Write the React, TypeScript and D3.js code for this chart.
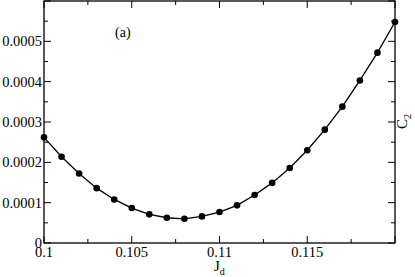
import React from 'react';
import * as d3 from 'd3';

// C2 vs Jd
const jd = [0.1, 0.101, 0.102, 0.103, 0.104, 0.105, 0.106, 0.107, 0.108, 0.109, 0.11,
  0.111, 0.112, 0.113, 0.114, 0.115, 0.116, 0.117, 0.118, 0.119, 0.12];
const c2 = [0.000262, 0.000214, 0.0001725, 0.000136, 0.000108, 0.0000866, 0.000071, 0.0000626,
  0.00006, 0.000066, 0.0000767, 0.0000933, 0.000119, 0.000149, 0.000186, 0.00023, 0.000281,
  0.000338, 0.000403, 0.000472, 0.000548];

const xMajor = [0.1, 0.105, 0.11, 0.115, 0.12];
const xLabels = ['0.1', '0.105', '0.11', '0.115', ''];
const yMajor = [0, 0.0001, 0.0002, 0.0003, 0.0004, 0.0005, 0.0006];
const yLabels = ['0', '0.0001', '0.0002', '0.0003', '0.0004', '0.0005', ''];

const W = 415, H = 277;
const m = { left: 44, right: 20, top: 1, bottom: 34 };
const font = "'Liberation Serif', 'Times New Roman', Times, serif";

export default function App() {
  const x = d3.scaleLinear().domain([0.1, 0.12]).range([m.left, W - m.right]);
  const y = d3.scaleLinear().domain([0, 0.0006]).range([H - m.bottom, m.top]);
  const pts = jd.map((v, i) => [v, c2[i]] as [number, number]);
  const line = d3.line<[number, number]>().x(d => x(d[0])).y(d => y(d[1]));

  const xMinor = d3.range(0, 8).map(i => 0.1025 + i * 0.005).filter(v => v < 0.12);
  const yMinor = d3.range(0, 6).map(i => 0.00005 + i * 0.0001);
  const x0 = x.range()[0], x1 = x.range()[1], y0 = y.range()[0], y1 = y.range()[1];
  const ts = { fontFamily: font };

  return (
    <div style={{ position: 'fixed', left: 0, top: 0 }}>
      <svg width={W} height={H} style={{ display: 'block', background: '#fff', fontFamily: font }}>
        <rect x={x0} y={y1} width={x1 - x0} height={y0 - y1} fill="none" stroke="#000" strokeWidth={1.3} />
        {xMajor.map((v, i) => (
          <g key={'xm' + i}>
            <line x1={x(v)} x2={x(v)} y1={y0} y2={y0 - 7} stroke="#000" />
            <line x1={x(v)} x2={x(v)} y1={y1} y2={y1 + 7} stroke="#000" />
            <text style={ts} x={x(v)} y={256.5} fontSize={14.5} textAnchor="middle">{xLabels[i]}</text>
          </g>
        ))}
        {xMinor.map((v, i) => (
          <g key={'xn' + i}>
            <line x1={x(v)} x2={x(v)} y1={y0} y2={y0 - 4} stroke="#000" />
            <line x1={x(v)} x2={x(v)} y1={y1} y2={y1 + 4} stroke="#000" />
          </g>
        ))}
        {yMajor.map((v, i) => (
          <g key={'ym' + i}>
            <line x1={x0} x2={x0 + 7} y1={y(v)} y2={y(v)} stroke="#000" />
            <line x1={x1} x2={x1 - 7} y1={y(v)} y2={y(v)} stroke="#000" />
            <text style={ts} x={x0 - 2} y={y(v)} dy="0.35em" fontSize={14.5} textAnchor="end">{yLabels[i]}</text>
          </g>
        ))}
        {yMinor.map((v, i) => (
          <g key={'yn' + i}>
            <line x1={x0} x2={x0 + 4} y1={y(v)} y2={y(v)} stroke="#000" />
            <line x1={x1} x2={x1 - 4} y1={y(v)} y2={y(v)} stroke="#000" />
          </g>
        ))}
        <path d={line(pts) || ''} fill="none" stroke="#000" strokeWidth={1.3} />
        {pts.map((d, i) => (
          <circle key={i} cx={x(d[0])} cy={y(d[1])} r={3.3} fill="#000" />
        ))}
        <text style={ts} x={115} y={37} fontSize={14}>(a)</text>
        <text style={ts} x={214} y={271} fontSize={15}>J<tspan dy={4} fontSize={10}>d</tspan></text>
        <text style={ts} transform={`translate(407,129) rotate(-90)`} fontSize={15}>C<tspan dy={4} fontSize={10}>2</tspan></text>
      </svg>
    </div>
  );
}
